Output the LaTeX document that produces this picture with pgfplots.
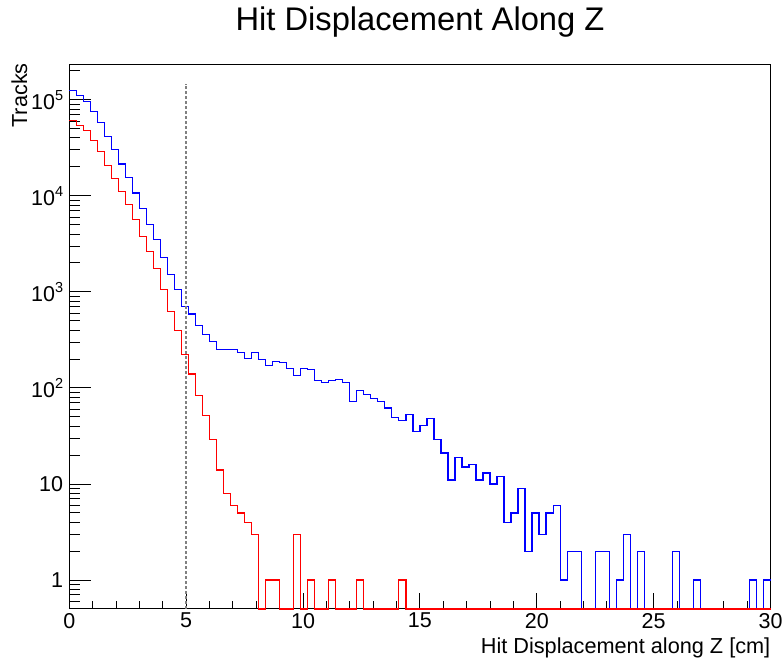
\documentclass[border=0pt]{standalone}
\usepackage{fontspec}
\setmainfont{Liberation Sans}
\usepackage{pgfplots}
\pgfplotsset{compat=1.18}
\usepackage{pgfplotstable}
\newcommand\ee[1]{10\raisebox{0.42em}{\fontsize{14.5bp}{14.5bp}\selectfont #1}}

\pgfplotstableread{
x y
0.0 125000
0.3 111000
0.6 96700
0.9 76000
1.2 57500
1.5 41200
1.8 30100
2.1 21500
2.4 15400
2.7 10700
3.0 7380
3.3 5020
3.6 3510
3.9 2290
4.2 1510
4.5 1060
4.8 708
5.1 590
5.4 446
5.7 359
6.0 306
6.3 251
6.6 251
6.9 251
7.2 235
7.5 202
7.8 232
8.1 198
8.4 171
8.7 187
9.0 183
9.3 160
9.6 135
9.9 158
10.2 155
10.5 120
10.8 114
11.1 120
11.4 122
11.7 114
12.0 72
12.3 94
12.6 85
12.9 77
13.2 72
13.5 62
13.8 49
14.1 46
14.4 53
14.7 35
15.0 41
15.3 48
15.6 29
15.9 21
16.2 11
16.5 19
16.8 15
17.1 16
17.4 11
17.7 13
18.0 10
18.3 12
18.6 4
18.9 5
19.2 9
19.5 2
19.8 5
20.1 3
20.4 5
20.7 6
21.0 1
21.3 2
21.6 2
21.9 0.5
22.2 0.5
22.5 2
22.8 2
23.1 0.5
23.4 1
23.7 3
24.0 0.5
24.3 2
24.6 0.5
24.9 0.5
25.2 0.5
25.5 0.5
25.8 2
26.1 0.5
26.4 0.5
26.7 1
27.0 0.5
27.3 0.5
27.6 0.5
27.9 0.5
28.2 0.5
28.5 0.5
28.8 0.5
29.1 1
29.4 0.5
29.7 1
30.0 1
}\bluedata

\pgfplotstableread{
x y
0.0 60900
0.3 54300
0.6 47900
0.9 37700
1.2 28700
1.5 20800
1.8 15100
2.1 11000
2.4 8120
2.7 5620
3.0 3800
3.3 2610
3.6 1740
3.9 1060
4.2 620
4.5 395
4.8 222
5.1 140
5.4 83
5.7 52
6.0 29
6.3 14
6.6 8
6.9 6
7.2 5
7.5 4
7.8 3
8.1 0.5
8.4 1
8.7 1
9.0 0.5
9.3 0.5
9.6 3
9.9 0.5
10.2 1
10.5 0.5
10.8 0.5
11.1 1
11.4 0.5
11.7 0.5
12.0 0.5
12.3 1
12.6 0.5
12.9 0.5
13.2 0.5
13.5 0.5
13.8 0.5
14.1 1
14.4 0.5
30.0 0.5
}\reddata

\begin{document}
\begin{tikzpicture}
\path[use as bounding box] (0,0) rectangle (784bp,662bp);
\begin{axis}[
  at={(69.3bp,53bp)}, anchor=south west,
  scale only axis, width=701.2bp, height=544bp,
  ymode=log, xmin=0, xmax=30, ymin=0.5, ymax=2.3e5,
  clip=false,
  axis line style={line width=1bp, black},
  tick align=inside, xtick pos=bottom, ytick pos=left,
  xtick={0,5,10,15,20,25,30},
  xticklabels={0,5,10,15,20,25,30},
  minor xtick={1,2,3,4,6,7,8,9,11,12,13,14,16,17,18,19,21,22,23,24,26,27,28,29},
  ytick={1,10,100,1000,10000,100000},
  yticklabels={1,10,\ee{2},\ee{3},\ee{4},\ee{5}},
  minor ytick={0.6,0.7,0.8,0.9,2,3,4,5,6,7,8,9,20,30,40,50,60,70,80,90,200,300,400,500,600,700,800,900,2000,3000,4000,5000,6000,7000,8000,9000,20000,30000,40000,50000,60000,70000,80000,90000,200000},
  tick style={line width=1bp, black},
  xtick style={/pgfplots/major tick length=16bp, /pgfplots/minor tick length=8bp},
  ytick style={/pgfplots/major tick length=21.7bp, /pgfplots/minor tick length=11bp},
  ticklabel style={font=\fontsize{21.5bp}{25bp}\selectfont},
  xticklabel style={inner sep=0pt, yshift=-4bp},
  yticklabel style={inner sep=0pt, xshift=-6bp},
]
\addplot[const plot mark left, draw={rgb,255:red,0;green,0;blue,255}, line width=1.25bp] table[x=x,y=y] {\bluedata};
\addplot[const plot mark left, draw={rgb,255:red,255;green,0;blue,0}, line width=1.25bp] table[x=x,y=y] {\reddata};
\addplot[draw=gray, line width=1.5bp, dash pattern=on 2.5bp off 2.5bp] coordinates {(5,0.5) (5,1.46e5)};
\end{axis}
\node[anchor=base, font=\fontsize{32.7bp}{39bp}\selectfont, inner sep=0pt] at (420bp,631bp) {Hit Displacement Along Z};
\node[anchor=base east, font=\fontsize{21.7bp}{26bp}\selectfont, inner sep=0pt] at (770.5bp,9bp) {Hit Displacement along Z [cm]};
\node[anchor=base east, rotate=90, font=\fontsize{21.7bp}{26bp}\selectfont, inner sep=0pt] at (27bp,599bp) {Tracks};
\end{tikzpicture}
\end{document}
